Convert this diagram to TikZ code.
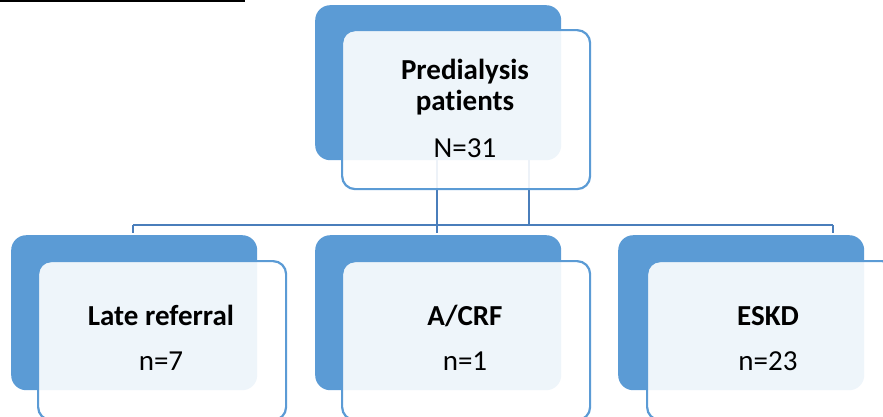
\documentclass[tikz,border=0pt]{standalone}
\usepackage{fontspec}
\setmainfont{Carlito}[Ligatures=NoCommon]
\definecolor{accent}{HTML}{5B9BD5}
\definecolor{conn}{HTML}{4A7EBB}
\begin{document}
\begin{tikzpicture}[x=1pt,y=-1pt,
  backbox/.style={draw=none,fill=accent,rounded corners=15pt,anchor=north west,inner sep=0pt,minimum width=246pt,minimum height=155pt},
  frontbox/.style={draw=accent,line width=2.2pt,fill=white,fill opacity=0.9,rounded corners=13pt,anchor=north west,inner sep=0pt,minimum width=248pt,minimum height=159pt},
  conline/.style={draw=conn,line width=2.2pt},
  title/.style={font=\fontsize{29}{31}\selectfont\bfseries,align=center,anchor=base,inner sep=0pt},
  count/.style={font=\fontsize{29}{31}\selectfont,anchor=base,inner sep=0pt}]
\useasboundingbox (0,0) rectangle (883,416);
% top rule
\draw[line width=1.8pt,black] (0,0.9) -- (245,0.9);
% connector coordinates
\coordinate (t1) at (437,160);
\coordinate (t2) at (529,160);
\coordinate (hl) at (133,225);
\coordinate (hr) at (833,225);
\coordinate (m2) at (529,225);
\coordinate (b1) at (133,233);
\coordinate (b2) at (437,233);
\coordinate (b3) at (833,233);
\draw[conline] (hl) -- (hr);
\draw[conline] (t1) -- (b2);
\draw[conline] (t2) -- (m2);
\draw[conline] (hl) -- (b1);
\draw[conline] (hr) -- (b3);
% boxes
\node[backbox] (topback) at (315,5) {};
\node[frontbox] (topfront) at (341,29) {};
\node[backbox] (lback) at (11,235) {};
\node[frontbox] (lfront) at (37,260) {};
\node[backbox] (mback) at (315,235) {};
\node[frontbox] (mfront) at (341,260) {};
\node[backbox] (rback) at (618,235) {};
\node[frontbox] (rfront) at (646,260) {};
% texts
\node[title] (ttitle) at (465,110) {Predialysis\\patients};
\node[count] (tcount) at (465,157) {N=31};
\node[title] (ltitle) at (161,325) {Late referral};
\node[count] (lcount) at (161,370) {n=7};
\node[title] (mtitle) at (465,325) {A/CRF};
\node[count] (mcount) at (465,370) {n=1};
\node[title] (rtitle) at (768,325) {ESKD};
\node[count] (rcount) at (768,370) {n=23};
\end{tikzpicture}
\end{document}
